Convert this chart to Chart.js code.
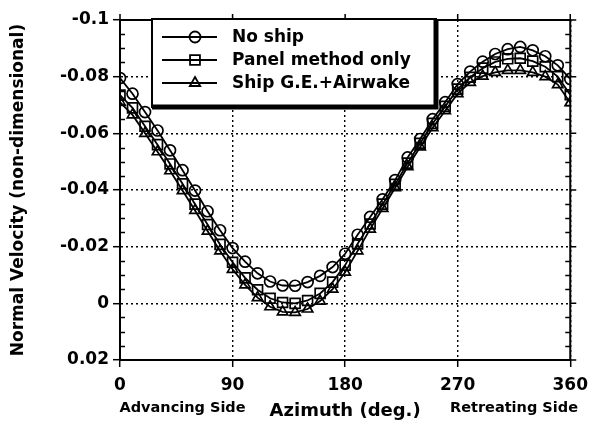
<!DOCTYPE html>
<html>
<head>
<meta charset="utf-8">
<script src="https://cdn.jsdelivr.net/npm/chart.js@4/dist/chart.umd.min.js"></script>
<style>
  html, body { margin: 0; padding: 0; background: #fff; }
</style>
</head>
<body>
<canvas id="chart" width="596" height="435"></canvas>
<script>
// azimuth every 10 deg
const azimuth = [0, 10, 20, 30, 40, 50, 60, 70, 80, 90, 100, 110, 120, 130, 140, 150, 160, 170, 180,
  190, 200, 210, 220, 230, 240, 250, 260, 270, 280, 290, 300, 310, 320, 330, 340, 350, 360]

const noShip = [-0.0795, -0.0740, -0.0675, -0.0610, -0.0540, -0.0470, -0.0398, -0.0325, -0.0258, -0.0195,
  -0.0147, -0.0106, -0.0077, -0.0063, -0.0062, -0.0075, -0.0097, -0.0128, -0.0175,
  -0.0242, -0.0305, -0.0367, -0.0435, -0.0515, -0.0580, -0.0650, -0.0710, -0.0774, -0.0818,
  -0.0853, -0.0880, -0.0897, -0.0905, -0.0893, -0.0872, -0.0840, -0.0792]

const panelOnly = [-0.0735, -0.0690, -0.0625, -0.0560, -0.0492, -0.0422, -0.0350, -0.0278, -0.0208, -0.0145,
  -0.0090, -0.0048, -0.0018, -0.0003, 0.0000, -0.0010, -0.0035, -0.0075, -0.0135,
  -0.0210, -0.0280, -0.0350, -0.0420, -0.0495, -0.0565, -0.0635, -0.0695, -0.0756, -0.0798,
  -0.0830, -0.0852, -0.0863, -0.0865, -0.0855, -0.0835, -0.0800, -0.0736]

const shipAirwake = [-0.0710, -0.0665, -0.0600, -0.0535, -0.0468, -0.0398, -0.0328, -0.0255, -0.0185, -0.0120,
  -0.0065, -0.0020, 0.0012, 0.0030, 0.0032, 0.0020, -0.0008, -0.0050, -0.0110,
  -0.0185, -0.0262, -0.0335, -0.0408, -0.0482, -0.0552, -0.0620, -0.0680, -0.0740, -0.0780,
  -0.0802, -0.0815, -0.0822, -0.0822, -0.0815, -0.0800, -0.0772, -0.0708]

const seriesLabels = ['No ship', 'Panel method only', 'Ship G.E.+Airwake']
const seriesMarkers = ['circle', 'rect', 'triangle']
const xTicks = [0, 90, 180, 270, 360]
const yTicks = [-0.1, -0.08, -0.06, -0.04, -0.02, 0, 0.02]
const sideLabels = ['Advancing Side', 'Retreating Side']

const FONT = 'DejaVu Sans'
const markerSize = {circle: 5.5, rect: 7, triangle: 6}

/** Box around the plot, inner minor ticks and outer ticks on top/right. */
const frame = {
  id: 'frame',
  afterDraw(chart) {
    const {ctx, chartArea: a, scales: {x, y}} = chart
    ctx.save()
    ctx.strokeStyle = '#000'
    ctx.lineWidth = 2
    ctx.beginPath()
    ctx.moveTo(a.left, a.top)
    ctx.lineTo(a.right, a.top)
    ctx.lineTo(a.right, a.bottom)
    ctx.stroke()

    ctx.lineWidth = 1.5
    ctx.beginPath()
    for (let i = 1; i < 24; i++) {
      if (i % 4 === 0) continue
      const py = Math.round(y.getPixelForValue(-0.1 + i * 0.005)) + 0.5
      ctx.moveTo(a.left, py)
      ctx.lineTo(a.left + 5, py)
      ctx.moveTo(a.right, py)
      ctx.lineTo(a.right - 5, py)
    }
    for (const v of yTicks) {
      const py = y.getPixelForValue(v)
      ctx.moveTo(a.right, py)
      ctx.lineTo(a.right + 6, py)
    }
    for (const v of xTicks) {
      const px = x.getPixelForValue(v)
      ctx.moveTo(px, a.top)
      ctx.lineTo(px, a.top - 6)
    }
    ctx.stroke()

    // labels under the x axis ends
    ctx.fillStyle = '#000'
    ctx.font = `bold 14.5px "${FONT}"`
    ctx.textAlign = 'center'
    ctx.textBaseline = 'middle'
    ctx.fillText(sideLabels[0], x.getPixelForValue(50), 408)
    ctx.fillText(sideLabels[1], x.getPixelForValue(315), 408)
    ctx.restore()
  },
}

/** Boxed legend with line + marker samples, drawn inside the plot. */
const boxLegend = {
  id: 'boxLegend',
  afterDraw(chart) {
    const {ctx} = chart
    const left = 152, top = 19, right = 436, bottom = 107
    ctx.save()
    ctx.fillStyle = '#fff'
    ctx.fillRect(left, top, right - left, bottom - top)
    ctx.strokeStyle = '#000'
    ctx.lineWidth = 2
    ctx.strokeRect(left, top, right - left, bottom - top)
    ctx.lineWidth = 5
    ctx.beginPath()
    ctx.moveTo(right, top)
    ctx.lineTo(right, bottom)
    ctx.lineTo(left, bottom)
    ctx.stroke()

    chart.data.datasets.forEach((ds, i) => {
      const ry = 37 + i * 23
      ctx.lineWidth = 1.8
      ctx.strokeStyle = '#000'
      ctx.beginPath()
      ctx.moveTo(162, ry)
      ctx.lineTo(217, ry)
      ctx.stroke()
      ctx.fillStyle = 'rgba(0,0,0,0)'
      Chart.helpers.drawPoint(ctx, {
        pointStyle: ds.pointStyle,
        radius: ds.pointRadius,
        borderWidth: 1.7,
      }, 195, ry)
      ctx.fillStyle = '#000'
      ctx.font = `bold 17px "${FONT}"`
      ctx.textAlign = 'left'
      ctx.textBaseline = 'middle'
      ctx.fillText(ds.label, 232, ry + 1)
    })
    ctx.restore()
  },
}

const series = [noShip, panelOnly, shipAirwake]

const datasets = series.map((vals, i) => ({
  label: seriesLabels[i],
  data: azimuth.map((a, j) => ({x: a, y: vals[j]})),
  borderColor: '#000',
  borderWidth: 1.8,
  pointStyle: seriesMarkers[i],
  pointRadius: markerSize[seriesMarkers[i]],
  pointBorderColor: '#000',
  pointBorderWidth: 1.7,
  pointBackgroundColor: 'rgba(0,0,0,0)',
  tension: 0,
}))

const tickFont = {family: FONT, size: 17, weight: 'bold'}

new Chart('chart', {
  type: 'line',
  data: {datasets},
  options: {
    responsive: false,
    animation: false,
    layout: {padding: {top: 20, right: 18, bottom: 0, left: 0}},
    plugins: {
      legend: {display: false},
      tooltip: {enabled: false},
    },
    scales: {
      x: {
        type: 'linear',
        min: 0,
        max: 360,
        afterBuildTicks: scale => {
          scale.ticks = xTicks.map(value => ({value}))
        },
        afterFit: scale => {
          scale.height = 75
        },
        grid: {
          color: '#000',
          lineWidth: 1.4,
          tickLength: 7,
          tickWidth: 1.5,
          tickColor: '#000',
        },
        border: {display: true, color: '#000', width: 2, dash: [2, 3]},
        ticks: {color: '#000', font: tickFont, padding: 8, maxRotation: 0},
        title: {
          display: true,
          text: 'Azimuth (deg.)',
          color: '#000',
          font: {family: FONT, size: 18, weight: 'bold'},
          padding: {top: 0, bottom: 13},
        },
      },
      y: {
        type: 'linear',
        min: -0.1,
        max: 0.02,
        reverse: true,
        afterBuildTicks: scale => {
          scale.ticks = yTicks.map(value => ({value}))
        },
        afterFit: scale => {
          scale.width = 120
        },
        grid: {
          color: '#000',
          lineWidth: 1.4,
          tickLength: 7,
          tickWidth: 1.5,
          tickColor: '#000',
        },
        border: {display: true, color: '#000', width: 2, dash: [2, 3]},
        ticks: {
          color: '#000',
          font: tickFont,
          padding: 4,
          callback: v => String(parseFloat(Number(v).toFixed(3))),
        },
        title: {
          display: true,
          text: 'Normal Velocity (non-dimensional)',
          color: '#000',
          font: {family: FONT, size: 17, weight: 'bold'},
          padding: {top: 8, bottom: 0},
        },
      },
    },
  },
  plugins: [frame, boxLegend],
})
</script>
</body>
</html>
